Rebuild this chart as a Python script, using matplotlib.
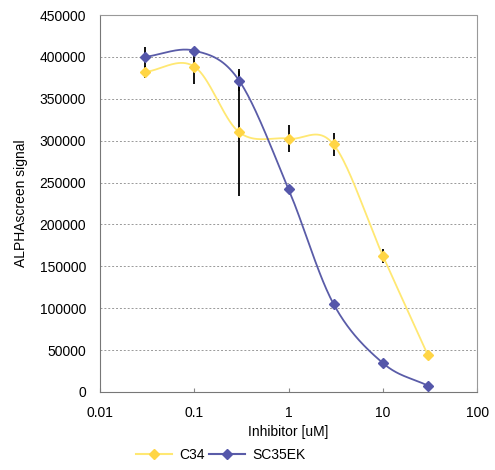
import numpy as np
import matplotlib
matplotlib.use("Agg")
import matplotlib.pyplot as plt

plt.rcParams['font.family'] = ['Liberation Sans', 'DejaVu Sans']

conc = [0.03, 0.1, 0.3, 1, 3, 10, 30]
c34 = [382000, 388500, 310000, 302500, 295500, 162500, 44000]
c34_err = [7000, 21000, 76000, 16500, 14000, 8500, 2000]
sc35 = [400000, 407500, 371500, 242000, 105000, 34500, 7500]
sc35_err = [12000, 4000, 12000, 3000, 3000, 2000, 1000]
yticks = [0, 50000, 100000, 150000, 200000, 250000, 300000, 350000, 400000, 450000]
xticks = [0.01, 0.1, 1, 10, 100]
xticklabels = ['0.01', '0.1', '1', '10', '100']

def smooth(xs, ys, n=40):
    lx = np.log10(xs)
    y = np.asarray(ys, float)
    px = np.concatenate([[2*lx[0]-lx[1]], lx, [2*lx[-1]-lx[-2]]])
    py = np.concatenate([[2*y[0]-y[1]], y, [2*y[-1]-y[-2]]])
    outx, outy = [], []
    for i in range(1, len(px)-2):
        t = np.linspace(0, 1, n)
        for arr, out in ((px, outx), (py, outy)):
            p0, p1, p2, p3 = arr[i-1], arr[i], arr[i+1], arr[i+2]
            out.extend(0.5*((2*p1) + (-p0+p2)*t + (2*p0-5*p1+4*p2-p3)*t**2 + (-p0+3*p1-3*p2+p3)*t**3))
    return 10**np.array(outx), np.array(outy)

fig = plt.figure(figsize=(4.95, 4.7), dpi=100)
ax = fig.add_axes([0.202, 0.166, 0.762, 0.802])

yellow_line = '#FFE873'
yellow_mk = '#FFD545'
blue_line = '#5A5CA8'
blue_mk = '#5557AA'

ax.errorbar(conc, c34, yerr=c34_err, fmt='none', ecolor='black', elinewidth=1.3, capsize=0, zorder=2)
ax.errorbar(conc, sc35, yerr=sc35_err, fmt='none', ecolor='black', elinewidth=1.3, capsize=0, zorder=2)

sx, sy = smooth(conc, c34)
ax.plot(sx, sy, color=yellow_line, lw=1.3, zorder=3)
sx, sy = smooth(conc, sc35)
ax.plot(sx, sy, color=blue_line, lw=1.3, zorder=3)
ax.plot(conc, c34, ls='none', marker='D', ms=5.5, color=yellow_mk, zorder=4)
ax.plot(conc, sc35, ls='none', marker='D', ms=5.5, color=blue_mk, zorder=4)

ax.plot([], [], color=yellow_line, marker='D', ms=5.5, mfc=yellow_mk, mec=yellow_mk, label='C34')
ax.plot([], [], color=blue_line, marker='D', ms=5.5, mfc=blue_mk, mec=blue_mk, label='SC35EK')

ax.set_xscale('log')
ax.set_xlim(0.01, 100)
ax.set_ylim(0, 450000)
ax.set_xticks(xticks)
ax.set_xticklabels(xticklabels)
ax.xaxis.set_minor_locator(matplotlib.ticker.NullLocator())
ax.set_yticks(yticks)
ax.set_yticklabels([str(v) for v in yticks])
ax.tick_params(axis='both', labelsize=10, length=3, color='#888888')
ax.tick_params(axis='x', direction='in', pad=10)
ax.tick_params(axis='y', length=0, pad=10)
ax.grid(axis='y', color='#999999', ls=(0, (2, 2)), lw=0.7)
for s in ax.spines.values():
    s.set_color('#999999')
    s.set_linestyle((0, (1, 1)))
ax.spines['left'].set_linestyle('-')
ax.spines['bottom'].set_linestyle('-')
ax.spines['left'].set_color('#777777')
ax.spines['bottom'].set_color('#777777')

ax.set_xlabel('Inhibitor [uM]', fontsize=10, labelpad=4)
ax.set_ylabel('ALPHAscreen signal', fontsize=10, labelpad=8)
ax.legend(loc='center', bbox_to_anchor=(0.32, -0.166), ncol=2, frameon=False,
          fontsize=10, handlelength=2.6, columnspacing=0.3, handletextpad=0.5,
          borderpad=0.2)

fig.savefig('out.png', dpi=100)
